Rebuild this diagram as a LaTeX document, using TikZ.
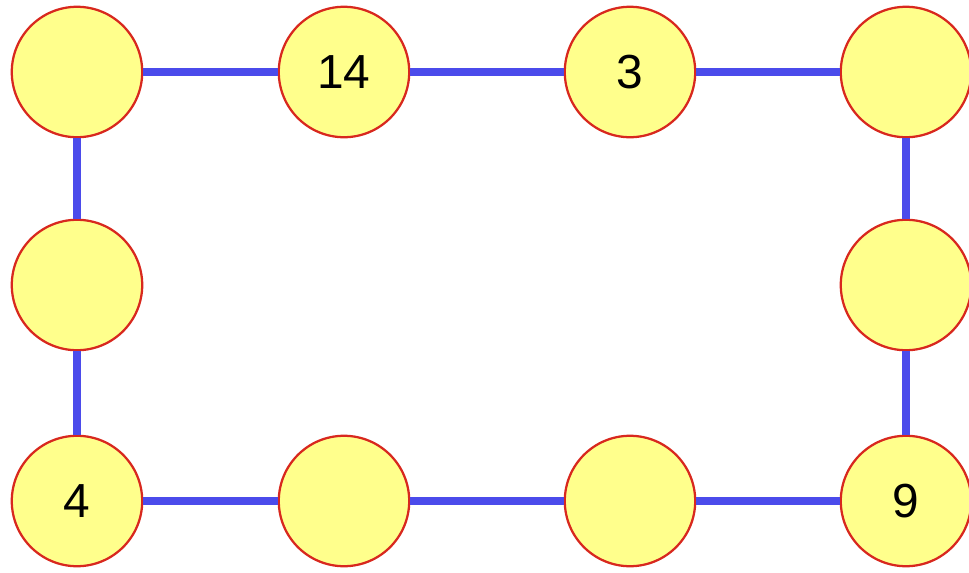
\documentclass[tikz,border=0pt]{standalone}
\usepackage{fontspec}
\setmainfont{Liberation Sans}
\usepackage{tikz}
\usetikzlibrary{positioning}
\definecolor{cellfill}{HTML}{FFFF8C}
\definecolor{cellred}{HTML}{D8281E}
\definecolor{linkblue}{HTML}{4B4BEB}

\begin{document}
\begin{tikzpicture}[x=0.025cm, y=-0.025cm,
        cell/.style={circle, draw=cellred, fill=cellfill, line width=1.6pt, minimum size=3.26cm, inner sep=0pt, font=\fontsize{34}{36}\selectfont, text=black},
        link/.style={linkblue, line width=5.5pt}
    ]
        \useasboundingbox (0,0) rectangle (969,573);
        \node (tl) [cell] at (77,72) {};
        \node (t2) [cell] at (344,72) {14};
        \node (t3) [cell] at (630,72) {3};
        \node (tr) [cell] at (906,72) {};
        \node (ml) [cell] at (77,285) {};
        \node (mr) [cell] at (906,285) {};
        \node (bl) [cell] at (77,501) {4};
        \node (b2) [cell] at (344,501) {};
        \node (b3) [cell] at (630,501) {};
        \node (br) [cell] at (906,501) {9};

        \draw [link] (tl) -- (t2);
        \draw [link] (t2) -- (t3);
        \draw [link] (t3) -- (tr);
        \draw [link] (tl) -- (ml);
        \draw [link] (ml) -- (bl);
        \draw [link] (tr) -- (mr);
        \draw [link] (mr) -- (br);
        \draw [link] (bl) -- (b2);
        \draw [link] (b2) -- (b3);
        \draw [link] (b3) -- (br);
    \end{tikzpicture}
\end{document}
